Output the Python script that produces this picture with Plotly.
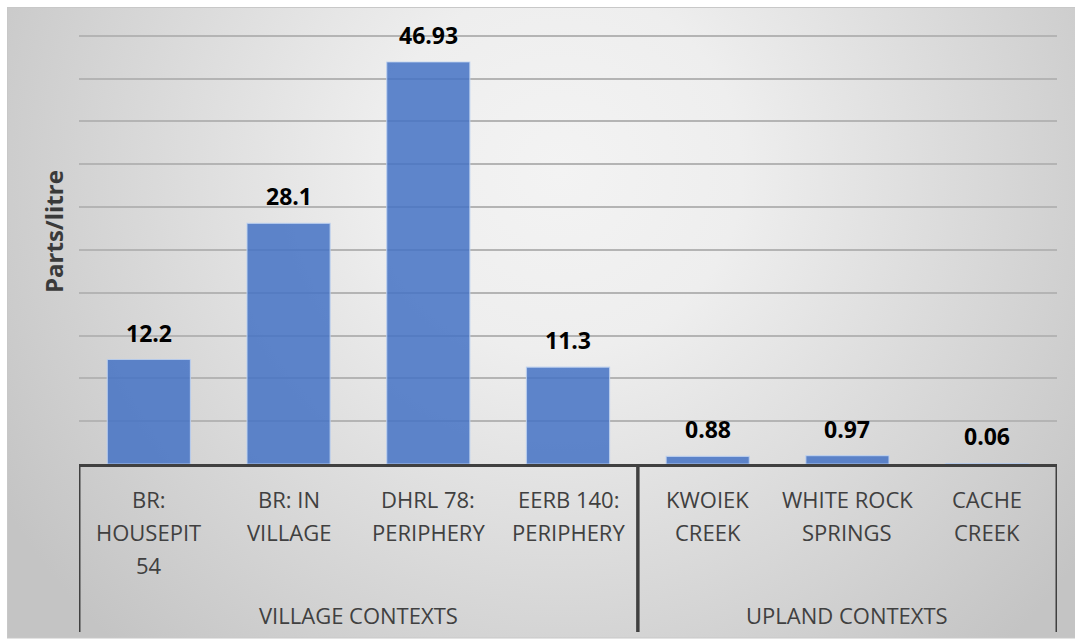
import base64
import plotly.graph_objects as go

# ---------------- data ----------------
categories = ["BR: HOUSEPIT 54", "BR: IN VILLAGE", "DHRL 78: PERIPHERY", "EERB 140: PERIPHERY",
              "KWOIEK CREEK", "WHITE ROCK SPRINGS", "CACHE CREEK"]
tick_lines = [["BR:", "HOUSEPIT", "54"], ["BR: IN", "VILLAGE"], ["DHRL 78:", "PERIPHERY"],
              ["EERB 140:", "PERIPHERY"], ["KWOIEK", "CREEK"], ["WHITE ROCK", "SPRINGS"],
              ["CACHE", "CREEK"]]
groups = ["VILLAGE CONTEXTS", "VILLAGE CONTEXTS", "VILLAGE CONTEXTS", "VILLAGE CONTEXTS",
          "UPLAND CONTEXTS", "UPLAND CONTEXTS", "UPLAND CONTEXTS"]
values = [12.2, 28.1, 46.93, 11.3, 0.88, 0.97, 0.06]
value_labels = ["12.2", "28.1", "46.93", "11.3", "0.88", "0.97", "0.06"]
y_title = "Parts/litre"

# ---------------- layout constants ----------------
W, H = 1075, 639
AXIS_Y = 464                  # pixel row of the x axis
LEFT_X, RIGHT_X = 79, 1057
Y_MAX = 50.2
PX_PER_UNIT = 428 / 50
PH = round(Y_MAX * PX_PER_UNIT)
MT = AXIS_Y - PH
MB = H - AXIS_Y
ML, MR = LEFT_X, W - RIGHT_X
PW = W - ML - MR
FONT = "Open Sans"
TXT = "#404040"
BG_BOTTOM = 638

# background gradient (svg image)
svg = f'''<svg xmlns="http://www.w3.org/2000/svg" width="{W}" height="{H}" viewBox="0 0 {W} {H}">
<defs><radialGradient id="g" gradientUnits="userSpaceOnUse" cx="560" cy="170" r="650">
<stop offset="0" stop-color="#f3f3f3"/><stop offset="0.28" stop-color="#eeeeee"/>
<stop offset="1" stop-color="#c4c4c4"/></radialGradient></defs>
<rect x="0" y="0" width="{W}" height="{H}" fill="#ffffff"/>
<rect x="7.5" y="7.5" width="{W + 10}" height="{BG_BOTTOM - 7.5}" fill="url(#g)" stroke="#c8c8c8" stroke-width="1"/>
</svg>'''
bg_src = "data:image/svg+xml;base64," + base64.b64encode(svg.encode()).decode()

fig = go.Figure()
fig.add_trace(go.Bar(
    x=categories, y=values,
    marker=dict(color="rgba(68,114,196,0.85)", line=dict(color="rgba(190,210,240,0.8)", width=1.2)),
    hoverinfo="skip", showlegend=False,
))

annotations = []
# data labels
for c, v, lab in zip(categories, values, value_labels):
    annotations.append(dict(x=c, y=v, xref="x", yref="y", text=f"<b>{lab}</b>", showarrow=False,
                            yanchor="middle", yshift=27,
                            font=dict(family=FONT, size=23, color="#000000")))
# category labels (line by line)
for c, lines in zip(categories, tick_lines):
    for i, ln in enumerate(lines):
        annotations.append(dict(x=c, y=0, xref="x", yref="paper", text=ln, showarrow=False,
                                yanchor="middle", yshift=-(35 + 33 * i),
                                font=dict(family=FONT, size=22, color=TXT)))
# group labels and dividers
shapes = []
uniq = []
for g in groups:
    if g not in uniq:
        uniq.append(g)
box_bottom = -(632 - 464) / PH
for g in uniq:
    idx = [i for i, gg in enumerate(groups) if gg == g]
    lo, hi = idx[0] - 0.5, idx[-1] + 0.5
    annotations.append(dict(x=(lo + hi) / 2, y=0, xref="x", yref="paper", text=g, showarrow=False,
                            yanchor="middle", yshift=-151,
                            font=dict(family=FONT, size=22, color=TXT)))
    for xx in (lo, hi):
        shapes.append(dict(type="line", xref="x", yref="paper", x0=xx, x1=xx, y0=0, y1=box_bottom,
                           line=dict(color="#404040", width=3)))
# y title
annotations.append(dict(x=(54 - 79) / PW, y=(464 - 232) / PH, xref="paper", yref="paper",
                        text=f"<b>{y_title}</b>", textangle=-90, showarrow=False,
                        xanchor="center", yanchor="middle",
                        font=dict(family=FONT, size=24, color="#3a3a3a")))

fig.update_layout(
    width=W, height=H,
    margin=dict(l=ML, r=MR, t=MT, b=MB, pad=0),
    paper_bgcolor="#ffffff", plot_bgcolor="rgba(0,0,0,0)",
    bargap=0.405,
    showlegend=False,
    font=dict(family=FONT, color=TXT),
    xaxis=dict(type="category", showticklabels=False, ticks="", showgrid=False,
               showline=True, linecolor="#404040", linewidth=3, zeroline=False,
               range=[-0.5, len(categories) - 0.5], fixedrange=True),
    yaxis=dict(range=[0, Y_MAX], dtick=5, showticklabels=False, ticks="", showgrid=True,
               gridcolor="#b4b4b4", gridwidth=2, zeroline=False, showline=False, fixedrange=True),
    annotations=annotations,
    shapes=shapes,
    images=[dict(source=bg_src, xref="paper", yref="paper", x=-ML / PW, y=1 + MT / PH,
                 sizex=W / PW, sizey=H / PH, xanchor="left", yanchor="top",
                 sizing="stretch", layer="below")],
)

fig.write_html("out.html", config={"displayModeBar": False},
               post_script="document.body.style.margin='0';document.body.style.overflow='hidden';")
